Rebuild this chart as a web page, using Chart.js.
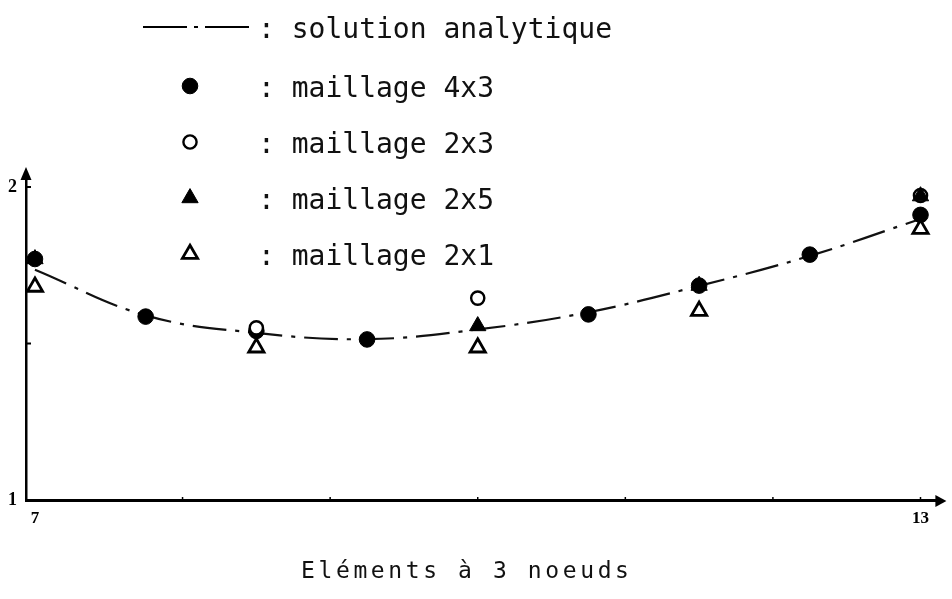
<!DOCTYPE html>
<html>
<head>
<meta charset="utf-8">
<script src="https://cdn.jsdelivr.net/npm/chart.js@4/dist/chart.umd.min.js"></script>
<style>
  html, body { margin: 0; padding: 0; background: #fff; }
  #wrap { width: 952px; height: 599px; }
</style>
</head>
<body>
<div id="wrap"><canvas id="c" width="952" height="599"></canvas></div>
<script>
// Node abscissae along the beam
const nodeX = [7, 7.75, 8.5, 9.25, 10, 10.75, 11.5, 12.25, 13];

// Analytical solution and the four meshes (null = no node there)
const analytique = [1.736, 1.590, 1.534, 1.514, 1.545, 1.600, 1.684, 1.780, 1.898];
const maillage4x3 = [1.770, 1.586, 1.540, 1.513, null, 1.593, 1.685, 1.784, 1.911];
const maillage2x3 = [null, null, 1.550, null, 1.645, null, null, null, 1.973];
const maillage2x5 = [1.770, null, null, null, 1.556, null, 1.685, null, 1.971];
const maillage2x1 = [1.681, null, 1.487, null, 1.487, null, 1.604, null, 1.866];

const seriesLabels = [': solution analytique', ': maillage 4x3', ': maillage 2x3', ': maillage 2x5', ': maillage 2x1'];
const xTickLabels = [7, 13];
const yTickLabels = [1, 2];
const xMinorTicks = [8, 9, 10, 11, 12, 13];
const yMinorTicks = [1.5, 2];
const xTitle = 'Eléments à 3 noeuds';

const toPoints = vals => nodeX.map((x, i) => ({ x, y: vals[i] })).filter(p => p.y !== null);

const INK = '#000';

function marker(style, radius, fill, bw, order) {
  return {
    type: 'scatter',
    showLine: false,
    pointStyle: style,
    pointRadius: radius,
    pointHoverRadius: radius,
    pointBackgroundColor: fill,
    pointBorderColor: INK,
    pointBorderWidth: bw,
    order: order,
    clip: false
  };
}

const datasets = [
  {
    type: 'line',
    label: seriesLabels[0],
    data: toPoints(analytique),
    borderColor: '#111',
    borderWidth: 2.2,
    borderDash: [34, 9, 4, 9],
    tension: 0.4,
    pointRadius: 0,
    fill: false,
    order: 4,
    clip: false
  },
  Object.assign({ label: seriesLabels[1], data: toPoints(maillage4x3) }, marker('circle', 7.8, INK, 1, 2)),
  Object.assign({ label: seriesLabels[2], data: toPoints(maillage2x3) }, marker('circle', 6.6, '#fff', 2.4, 1)),
  Object.assign({ label: seriesLabels[3], data: toPoints(maillage2x5) }, marker('triangle', 9.4, INK, 1, 0)),
  Object.assign({ label: seriesLabels[4], data: toPoints(maillage2x1) }, marker('triangle', 8.8, '#fff', 2.8, 3))
];

function drawMarker(ctx, ds, x, y) {
  ctx.save();
  ctx.fillStyle = ds.pointBackgroundColor;
  ctx.strokeStyle = ds.pointBorderColor;
  ctx.lineWidth = ds.pointBorderWidth;
  ctx.setLineDash([]);
  const opts = { pointStyle: ds.pointStyle, radius: ds.pointRadius, borderWidth: ds.pointBorderWidth, rotation: 0 };
  if (Chart.helpers && Chart.helpers.drawPoint) {
    Chart.helpers.drawPoint(ctx, opts, x, y);
  } else {
    ctx.beginPath();
    const r = ds.pointRadius;
    if (ds.pointStyle === 'circle') {
      ctx.arc(x, y, r, 0, Math.PI * 2);
    } else {
      const size = r * 3 / Math.sqrt(3), h = size * Math.sqrt(3) / 2;
      ctx.moveTo(x - size / 2, y + h / 3);
      ctx.lineTo(x + size / 2, y + h / 3);
      ctx.lineTo(x, y - 2 * h / 3);
      ctx.closePath();
    }
    ctx.fill();
    if (ds.pointBorderWidth > 0) ctx.stroke();
  }
  ctx.restore();
}

// Arrow heads, small inner ticks, the key and the axis caption
const decor = {
  id: 'decor',
  afterDraw(chart) {
    const ctx = chart.ctx;
    const xs = chart.scales.x, ys = chart.scales.y;
    const x0 = xs.left, y0 = ys.bottom;
    ctx.save();
    ctx.fillStyle = INK;
    ctx.strokeStyle = INK;

    // arrow on the vertical axis
    ctx.beginPath();
    ctx.moveTo(x0, ys.top - 11);
    ctx.lineTo(x0 - 5.5, ys.top + 2);
    ctx.lineTo(x0 + 5.5, ys.top + 2);
    ctx.closePath();
    ctx.fill();

    // arrow on the horizontal axis
    ctx.beginPath();
    ctx.moveTo(xs.right + 6, y0 + 1);
    ctx.lineTo(xs.right - 5, y0 - 5);
    ctx.lineTo(xs.right - 5, y0 + 7);
    ctx.closePath();
    ctx.fill();

    // short inner tick marks
    ctx.lineWidth = 2;
    yMinorTicks.forEach(v => {
      const py = ys.getPixelForValue(v);
      ctx.beginPath(); ctx.moveTo(x0, py); ctx.lineTo(x0 + 5, py); ctx.stroke();
    });
    ctx.lineWidth = 1.5;
    xMinorTicks.forEach(v => {
      const px = xs.getPixelForValue(v);
      ctx.beginPath(); ctx.moveTo(px, y0); ctx.lineTo(px, y0 - 3); ctx.stroke();
    });

    // key
    const rowY = [27, 86, 142, 198, 254];
    const keyX = 190, textX = 258;
    ctx.font = '28px "DejaVu Sans Mono"';
    ctx.textBaseline = 'alphabetic';
    ctx.textAlign = 'left';
    chart.data.datasets.forEach((ds, i) => {
      const y = rowY[i];
      if (i === 0) {
        ctx.save();
        ctx.lineWidth = 2.2;
        ctx.setLineDash([44, 7, 4, 7, 44, 200]);
        ctx.beginPath(); ctx.moveTo(143, y); ctx.lineTo(249, y); ctx.stroke();
        ctx.restore();
      } else {
        drawMarker(ctx, ds, keyX, y);
      }
      ctx.fillStyle = '#111';
      ctx.fillText(ds.label, textX, y + 11);
    });

    // caption under the horizontal axis
    ctx.font = '23px "DejaVu Sans Mono"';
    const sp = 3.6;
    if ('letterSpacing' in ctx) ctx.letterSpacing = sp + 'px';
    const w = ctx.measureText(xTitle).width - sp;
    ctx.fillStyle = '#111';
    ctx.fillText(xTitle, 465 - w / 2, 578);
    ctx.restore();
  }
};

new Chart(document.getElementById('c'), {
  data: { datasets },
  options: {
    responsive: false,
    animation: false,
    events: [],
    layout: { padding: { top: 178, right: 7, left: 0, bottom: 0 } },
    plugins: { legend: { display: false }, tooltip: { enabled: false }, title: { display: false } },
    scales: {
      x: {
        type: 'linear',
        min: 6.9393,
        max: 13.1348,
        afterFit: s => { s.height = 99; },
        afterBuildTicks: s => { s.ticks = xTickLabels.map(v => ({ value: v })); },
        grid: { display: false, drawTicks: false },
        border: { display: true, color: INK, width: 3 },
        ticks: {
          color: INK,
          padding: 8,
          font: { family: '"Liberation Serif"', size: 17, weight: 'bold' },
          callback: v => String(v)
        }
      },
      y: {
        type: 'linear',
        min: 1,
        max: 2.0288,
        afterFit: s => { s.width = 26; },
        afterBuildTicks: s => { s.ticks = yTickLabels.map(v => ({ value: v })); },
        grid: { display: false, drawTicks: false },
        border: { display: true, color: INK, width: 2.5 },
        ticks: {
          color: INK,
          padding: 9,
          font: { family: '"Liberation Serif"', size: 18, weight: 'bold' },
          callback: v => String(v)
        }
      }
    }
  },
  plugins: [decor]
});
</script>
</body>
</html>
